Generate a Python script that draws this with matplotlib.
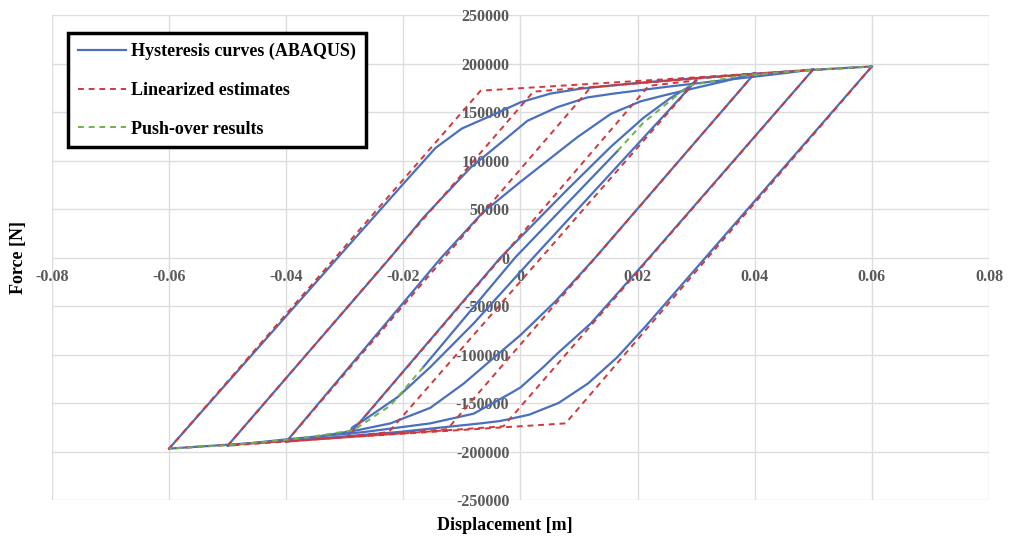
import numpy as np
import matplotlib
matplotlib.use("Agg")
import matplotlib.pyplot as plt

plt.rcParams['font.family'] = ['Liberation Serif', 'DejaVu Serif']
plt.rcParams['axes.unicode_minus'] = False

# linearized (bilinear) loops: peak -> lower corner -> -peak -> upper corner -> peak
lin_06_x = [0.06, 0.0077, -0.06, -0.0068, 0.06]
lin_06_f = [197000, -171000, -197000, 172000, 197000]
lin_05_x = [0.05, -0.0029, -0.05, 0.0022, 0.05]
lin_05_f = [194000, -174000, -194000, 171000, 194000]
lin_04_x = [0.04, -0.0125, -0.04, 0.012, 0.04]
lin_04_f = [190000, -177000, -190000, 175500, 190000]
lin_03_x = [0.03, -0.0225, -0.0295, 0.0219, 0.03]
lin_03_f = [182500, -180000, -184500, 177000, 182500]

# ABAQUS hysteresis branches
up_06_x = [-0.06, -0.03, -0.02, -0.0145, -0.01, -0.0051, 0, 0.0051, 0.0102, 0.02, 0.03, 0.04, 0.05, 0.06]
up_06_f = [-197000, 8000, 76000, 113000, 133000, 146000, 160000, 169000, 174000, 180000, 185000, 189500, 193500, 197000]
dn_06_x = [0.06, 0.0316, 0.0215, 0.0165, 0.0115, 0.0065, 0.0015, -0.0034, -0.0068, -0.021, -0.0324, -0.045, -0.06]
dn_06_f = [197000, 0, -70000, -103000, -130000, -150000, -162000, -168500, -171000, -180000, -185600, -191000, -197000]

up_05_x = [-0.05, -0.0222, -0.0166, -0.0085, -0.0022, 0.0012, 0.0063, 0.0114, 0.0159, 0.025, 0.035, 0.045, 0.05]
up_05_f = [-194000, 0, 41000, 92800, 124000, 141000, 155000, 165000, 169000, 176000, 183000, 190000, 194000]
dn_05_x = [0.05, 0.022, 0.012, 0.0063, 0.0039, 0, -0.0017, -0.008, -0.0154, -0.0268, -0.04, -0.05]
dn_05_f = [194000, 0, -68000, -99000, -113000, -134000, -140000, -161000, -171000, -180000, -187500, -194000]

up_04_x = [-0.04, -0.0135, -0.0065, 0, 0.004, 0.0097, 0.0154, 0.0205, 0.0244, 0.03, 0.035, 0.04]
up_04_f = [-190000, 0, 46000, 78000, 97000, 124000, 148000, 161000, 167000, 175000, 182000, 190000]
dn_04_x = [0.04, 0.0128, 0.006, 0, -0.0039, -0.0097, -0.0154, -0.0222, -0.0278, -0.034, -0.04]
dn_04_f = [190000, 0, -45000, -80000, -100000, -130000, -155000, -171000, -178000, -184000, -190000]

up_03_x = [-0.0295, -0.0034, 0.008, 0.0154, 0.021, 0.0255, 0.0285, 0.03]
up_03_f = [-184500, 0, 70000, 114000, 144000, 164000, 175000, 182500]
dn_03_x = [0.03, 0.0022, -0.008, -0.0154, -0.021, -0.0268, -0.0287, -0.0295]
dn_03_f = [182500, 0, -68000, -113000, -144000, -168000, -175000, -184500]

init_x = [-0.0166, -0.0009, 0.0166]
init_f = [-113000, 0, 110000]

# push-over (monotonic) results
push_pos_x = [0.0166, 0.021, 0.0287, 0.0376, 0.05, 0.06]
push_pos_f = [110000, 139000, 177000, 187600, 193500, 197000]
push_neg_x = [-0.0166, -0.0222, -0.0285, -0.0376, -0.05, -0.06]
push_neg_f = [-113000, -152600, -178000, -186600, -193500, -197000]

x_ticks = [-0.08, -0.06, -0.04, -0.02, 0, 0.02, 0.04, 0.06, 0.08]
x_labels = ['-0.08', '-0.06', '-0.04', '-0.02', '0', '0.02', '0.04', '0.06', '0.08']
y_ticks = [-250000, -200000, -150000, -100000, -50000, 0, 50000, 100000, 150000, 200000, 250000]
y_labels = [str(v) for v in y_ticks]

blue = '#4a6fbf'
red = '#d0383a'
green = '#6fb24a'

fig = plt.figure(figsize=(10.11, 5.37), dpi=100)
ax = fig.add_axes([0.0514, 0.0689, 0.9268, 0.9031])

hyst = [(up_06_x, up_06_f), (dn_06_x, dn_06_f), (up_05_x, up_05_f), (dn_05_x, dn_05_f),
        (up_04_x, up_04_f), (dn_04_x, dn_04_f), (up_03_x, up_03_f), (dn_03_x, dn_03_f),
        (init_x, init_f)]
for i, (xx, ff) in enumerate(hyst):
    ax.plot(xx, ff, color=blue, lw=1.6, zorder=2,
            label='Hysteresis curves (ABAQUS)' if i == 0 else None)

lins = [(lin_06_x, lin_06_f), (lin_05_x, lin_05_f), (lin_04_x, lin_04_f), (lin_03_x, lin_03_f)]
for i, (xx, ff) in enumerate(lins):
    ax.plot(xx, ff, color=red, lw=1.4, ls=(0, (3, 2.5)), zorder=3,
            label='Linearized estimates' if i == 0 else None)

ax.plot(push_pos_x, push_pos_f, color=green, lw=1.4, ls=(0, (3, 2.5)), zorder=3,
        label='Push-over results')
ax.plot(push_neg_x, push_neg_f, color=green, lw=1.4, ls=(0, (3, 2.5)), zorder=3)

ax.set_xlim(-0.08, 0.08)
ax.set_ylim(-250000, 250000)
ax.set_xticks(x_ticks)
ax.set_xticklabels(x_labels)
ax.set_yticks(y_ticks)
ax.set_yticklabels(y_labels)
ax.grid(True, color='#dddddd', lw=1)
ax.set_axisbelow(True)

ax.spines['left'].set_position('zero')
ax.spines['bottom'].set_position('zero')
for s in ax.spines.values():
    s.set_color('none')
ax.tick_params(length=0, labelsize=11.5, labelcolor='#595959', pad=8)
for t in ax.get_xticklabels() + ax.get_yticklabels():
    t.set_fontweight('bold')

ax.set_xlabel('Displacement [m]', fontsize=13, fontweight='bold')
ax.set_ylabel('Force [N]', fontsize=13, fontweight='bold')
ax.xaxis.set_label_coords(0.4835, -0.035)
ax.yaxis.set_label_coords(-0.027, 0.5)

leg = ax.legend(loc='upper left', bbox_to_anchor=(0.017, 0.963), borderaxespad=0,
                frameon=True, fancybox=False, edgecolor='black', framealpha=1,
                prop={'weight': 'bold', 'size': 13}, handlelength=2.65,
                labelspacing=1.2, borderpad=0.55, handletextpad=0.3)
leg.get_frame().set_linewidth(2.5)

fig.savefig('out.png', dpi=100)
